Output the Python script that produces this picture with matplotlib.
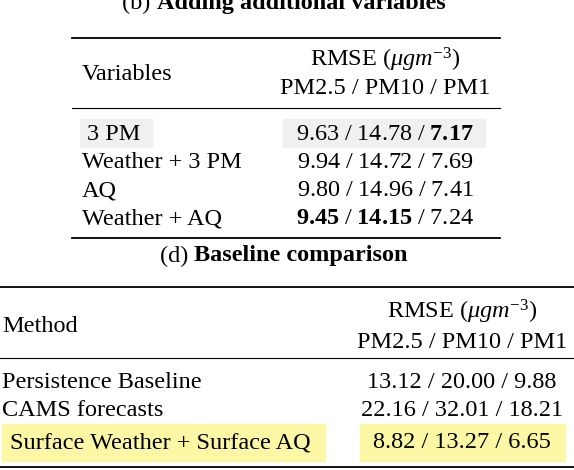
import matplotlib
matplotlib.use("Agg")
import matplotlib.pyplot as plt
from matplotlib.patches import Rectangle

plt.rcParams['mathtext.fontset'] = 'custom'
plt.rcParams['mathtext.rm'] = 'Liberation Serif'
plt.rcParams['mathtext.it'] = 'Liberation Serif:italic'
plt.rcParams['mathtext.bf'] = 'Liberation Serif:bold'
plt.rcParams['font.family'] = 'Liberation Serif'

vars_b = ["3 PM", "Weather + 3 PM", "AQ", "Weather + AQ"]
vals_b = [r"$\mathrm{9.63\ /\ 14.78\ /\ }\mathbf{7.17}$",
          r"$\mathrm{9.94\ /\ 14.72\ /\ 7.69}$",
          r"$\mathrm{9.80\ /\ 14.96\ /\ 7.41}$",
          r"$\mathbf{9.45}\mathrm{\ /\ }\mathbf{14.15}\mathrm{\ /\ 7.24}$"]
methods_d = ["Persistence Baseline", "CAMS forecasts", "Surface Weather + Surface AQ"]
vals_d = ["13.12 / 20.00 / 9.88", "22.16 / 32.01 / 18.21", "8.82 / 13.27 / 6.65"]

fig = plt.figure(figsize=(5.74, 4.70), dpi=100)
ax = fig.add_axes([0, 0, 1, 1])
ax.set_xlim(0, 574); ax.set_ylim(470, 0); ax.axis('off')
fs = 17.5
d = 2

ax.text(157, 3, "(b) ", fontsize=fs, ha='right', va='center')
ax.text(157, 3, "Adding additional variables", fontsize=fs, ha='left', va='center', weight='bold')
ax.plot([72, 500], [38, 38], color='k', lw=1.3)
ax.text(82, 72 + d, "Variables", fontsize=fs, va='center')
ax.text(385, 58 + d, r"RMSE ($\mu g m^{-3}$)", fontsize=fs, ha='center', va='center')
ax.text(385, 87 + d, "PM2.5 / PM10 / PM1", fontsize=fs, ha='center', va='center')
ax.plot([72, 500], [108, 108], color='k', lw=0.8)
ax.add_patch(Rectangle((80, 119), 72, 28, color='#f0f0f0', zorder=0))
ax.add_patch(Rectangle((283, 119), 202, 28, color='#f0f0f0', zorder=0))
ys = [133, 161, 189, 217]
for y, v, val in zip(ys, vars_b, vals_b):
    ax.text(82 if v != "3 PM" else 87, y + d, v, fontsize=fs, va='center')
    ax.text(385, y + d, val, fontsize=fs, ha='center', va='center')
ax.plot([72, 500], [238, 238], color='k', lw=1.3)

ax.text(194, 256, "(d) ", fontsize=fs, ha='right', va='center')
ax.text(194, 256, "Baseline comparison", fontsize=fs, ha='left', va='center', weight='bold')
ax.plot([0, 574], [287, 287], color='k', lw=1.3)
ax.text(2, 325 + d, "Method", fontsize=fs, va='center')
ax.text(462, 310 + d, r"RMSE ($\mu g m^{-3}$)", fontsize=fs, ha='center', va='center')
ax.text(462, 340 + d, "PM2.5 / PM10 / PM1", fontsize=fs, ha='center', va='center')
ax.plot([0, 574], [358, 358], color='k', lw=0.8)
ax.add_patch(Rectangle((2, 424), 323, 37, color='#fbf7a5', zorder=0))
ax.add_patch(Rectangle((360, 424), 205, 37, color='#fbf7a5', zorder=0))
for y, m, val in zip([381, 408, 441], methods_d, vals_d):
    ax.text(2 if y != 441 else 10, y + d, m, fontsize=fs, va='center')
    ax.text(462, y + d, val, fontsize=fs, ha='center', va='center')
ax.plot([0, 574], [467, 467], color='k', lw=1.3)

fig.savefig("out.png", dpi=100)
